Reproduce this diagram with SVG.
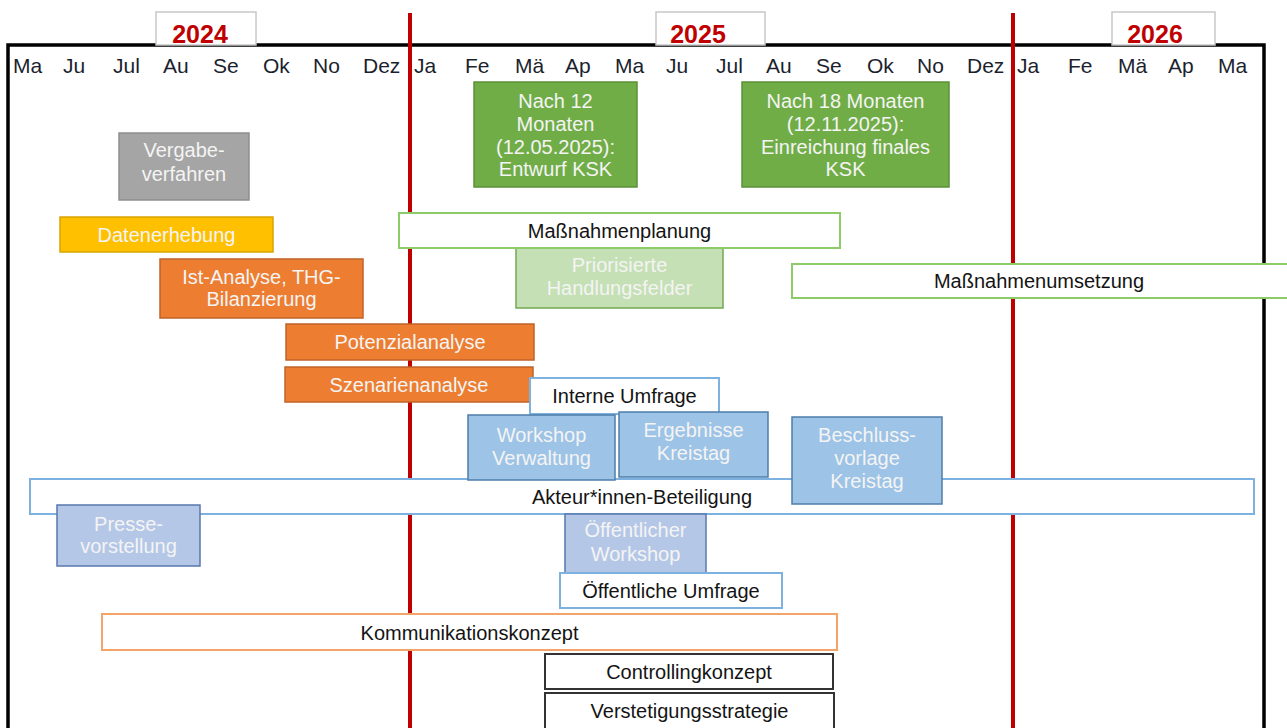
<svg xmlns="http://www.w3.org/2000/svg" width="1287" height="728" viewBox="0 0 1287 728">
<style>
text{font-family:"Liberation Sans",Arial,sans-serif;}
.m{font-size:21px;fill:#1c1f2e;}
.yr{font-size:25px;font-weight:bold;fill:#c00000;text-anchor:middle;}
.t{font-size:20px;text-anchor:middle;}
.w{fill:#f4f4f4;}
.k{fill:#141414;}
.ybox{fill:#fff;stroke:#c8c8c8;stroke-width:1.5;}
.gray{fill:#a5a5a5;stroke:#8e8e8e;stroke-width:1.5;}
.yel{fill:#ffc000;stroke:#d9a400;stroke-width:1.5;}
.ora{fill:#ed7d31;stroke:#c0632a;stroke-width:1.5;}
.grn{fill:#70ad47;stroke:#5b913a;stroke-width:1.5;}
.lgrn{fill:#c5e0b4;stroke:#72a952;stroke-width:1.5;}
.blu{fill:#9dc3e6;stroke:#4e7eab;stroke-width:1.5;}
.lblu{fill:#b4c7e7;stroke:#5878ad;stroke-width:1.5;}
.wg{fill:#fff;stroke:#8ccb68;stroke-width:2;}
.wb{fill:#fff;stroke:#7db1e0;stroke-width:2;}
.wo{fill:#fff;stroke:#f5a469;stroke-width:2;}
.wk{fill:#fff;stroke:#333;stroke-width:2;}
</style>
<rect width="1287" height="728" fill="#fff"/>
<g id="frame">
<polyline points="8,728 8,45 1264,45 1264,728" fill="none" stroke="#000" stroke-width="3.5"/>
</g>
<g id="yearlines">
<line x1="410" y1="13" x2="410" y2="728" stroke="#c00000" stroke-width="4"/>
<line x1="1013" y1="13" x2="1013" y2="728" stroke="#c00000" stroke-width="4"/>
</g>
<g id="years">
<rect class="ybox" x="156" y="12" width="100" height="33"/>
<text class="yr" x="200" y="43">2024</text>
<rect class="ybox" x="656" y="12" width="109" height="33"/>
<text class="yr" x="698" y="43">2025</text>
<rect class="ybox" x="1112" y="12" width="103" height="33"/>
<text class="yr" x="1155" y="43">2026</text>
</g>
<g id="months">
<text class="m" x="13" y="73">Ma</text>
<text class="m" x="63" y="73">Ju</text>
<text class="m" x="113" y="73">Jul</text>
<text class="m" x="163" y="73">Au</text>
<text class="m" x="213" y="73">Se</text>
<text class="m" x="263" y="73">Ok</text>
<text class="m" x="313" y="73">No</text>
<text class="m" x="363" y="73">Dez</text>
<text class="m" x="414" y="73">Ja</text>
<text class="m" x="465" y="73">Fe</text>
<text class="m" x="515" y="73">Mä</text>
<text class="m" x="565" y="73">Ap</text>
<text class="m" x="615" y="73">Ma</text>
<text class="m" x="666" y="73">Ju</text>
<text class="m" x="716" y="73">Jul</text>
<text class="m" x="766" y="73">Au</text>
<text class="m" x="816" y="73">Se</text>
<text class="m" x="867" y="73">Ok</text>
<text class="m" x="917" y="73">No</text>
<text class="m" x="967" y="73">Dez</text>
<text class="m" x="1017" y="73">Ja</text>
<text class="m" x="1068" y="73">Fe</text>
<text class="m" x="1118" y="73">Mä</text>
<text class="m" x="1168" y="73">Ap</text>
<text class="m" x="1218" y="73">Ma</text>
</g>
<g id="connectors"></g>
<g id="vergabe"><rect class="gray" x="119" y="133" width="130" height="67"/>
<text class="t w" x="184" y="157">Vergabe-</text><text class="t w" x="184" y="181">verfahren</text></g>
<g id="datenerhebung"><rect class="yel" x="60" y="217" width="213" height="35"/>
<text class="t w" x="166.5" y="242">Datenerhebung</text></g>
<g id="istanalyse"><rect class="ora" x="160" y="259" width="203" height="59"/>
<text class="t w" x="261.5" y="284">Ist-Analyse, THG-</text><text class="t w" x="261.5" y="306">Bilanzierung</text></g>
<g id="potenzial"><rect class="ora" x="286" y="324" width="248" height="36"/>
<text class="t w" x="410" y="349">Potenzialanalyse</text></g>
<g id="szenarien"><rect class="ora" x="285" y="367" width="248" height="35"/>
<text class="t w" x="409" y="392">Szenarienanalyse</text></g>
<g id="nach12"><rect class="grn" x="474" y="82" width="163" height="105"/>
<text class="t w" x="555.5" y="108">Nach 12</text><text class="t w" x="555.5" y="131">Monaten</text><text class="t w" x="555.5" y="154">(12.05.2025):</text><text class="t w" x="555.5" y="176">Entwurf KSK</text></g>
<g id="nach18"><rect class="grn" x="742" y="82" width="207" height="105"/>
<text class="t w" x="845.5" y="108">Nach 18 Monaten</text><text class="t w" x="845.5" y="131">(12.11.2025):</text><text class="t w" x="845.5" y="154">Einreichung finales</text><text class="t w" x="845.5" y="176">KSK</text></g>
<g id="priorisierte"><rect class="lgrn" x="516" y="248" width="207" height="60"/>
<text class="t w" x="619.5" y="272">Priorisierte</text><text class="t w" x="619.5" y="295">Handlungsfelder</text></g>
<g id="massnahmenplanung"><rect class="wg" x="399" y="213" width="441" height="35"/>
<text class="t k" x="619.5" y="238">Maßnahmenplanung</text></g>
<g id="massnahmenumsetzung"><rect class="wg" x="792" y="264" width="500" height="34"/>
<text class="t k" x="1039" y="288">Maßnahmenumsetzung</text></g>
<g id="akteur"><rect class="wb" x="30" y="479" width="1224" height="35"/>
<text class="t k" x="642" y="504">Akteur*innen-Beteiligung</text></g>
<g id="interne"><rect class="wb" x="530" y="378" width="189" height="36"/>
<text class="t k" x="624.5" y="403">Interne Umfrage</text></g>
<g id="workshopverwaltung"><rect class="blu" x="468" y="415" width="147" height="65"/>
<text class="t w" x="541.5" y="442">Workshop</text><text class="t w" x="541.5" y="465">Verwaltung</text></g>
<g id="ergebnisse"><rect class="blu" x="619" y="412" width="149" height="65"/>
<text class="t w" x="693.5" y="437">Ergebnisse</text><text class="t w" x="693.5" y="460">Kreistag</text></g>
<g id="beschluss"><rect class="blu" x="792" y="417" width="150" height="87"/>
<text class="t w" x="867" y="442">Beschluss-</text><text class="t w" x="867" y="465">vorlage</text><text class="t w" x="867" y="488">Kreistag</text></g>
<g id="presse"><rect class="lblu" x="57" y="505" width="143" height="61"/>
<text class="t w" x="128.5" y="531">Presse-</text><text class="t w" x="128.5" y="553">vorstellung</text></g>
<g id="oeffworkshop"><rect class="lblu" x="565" y="514" width="141" height="59"/>
<text class="t w" x="635.5" y="537">Öffentlicher</text><text class="t w" x="635.5" y="561">Workshop</text></g>
<g id="oeffumfrage"><rect class="wb" x="560" y="573" width="222" height="35"/>
<text class="t k" x="671" y="598">Öffentliche Umfrage</text></g>
<g id="kommunikation"><rect class="wo" x="102" y="614" width="735" height="36"/>
<text class="t k" x="469.5" y="640">Kommunikationskonzept</text></g>
<g id="controlling"><rect class="wk" x="545" y="654" width="288" height="35"/>
<text class="t k" x="689" y="679">Controllingkonzept</text></g>
<g id="verstetigung"><rect class="wk" x="545" y="693" width="289" height="45"/>
<text class="t k" x="689.5" y="718">Verstetigungsstrategie</text></g>
</svg>
